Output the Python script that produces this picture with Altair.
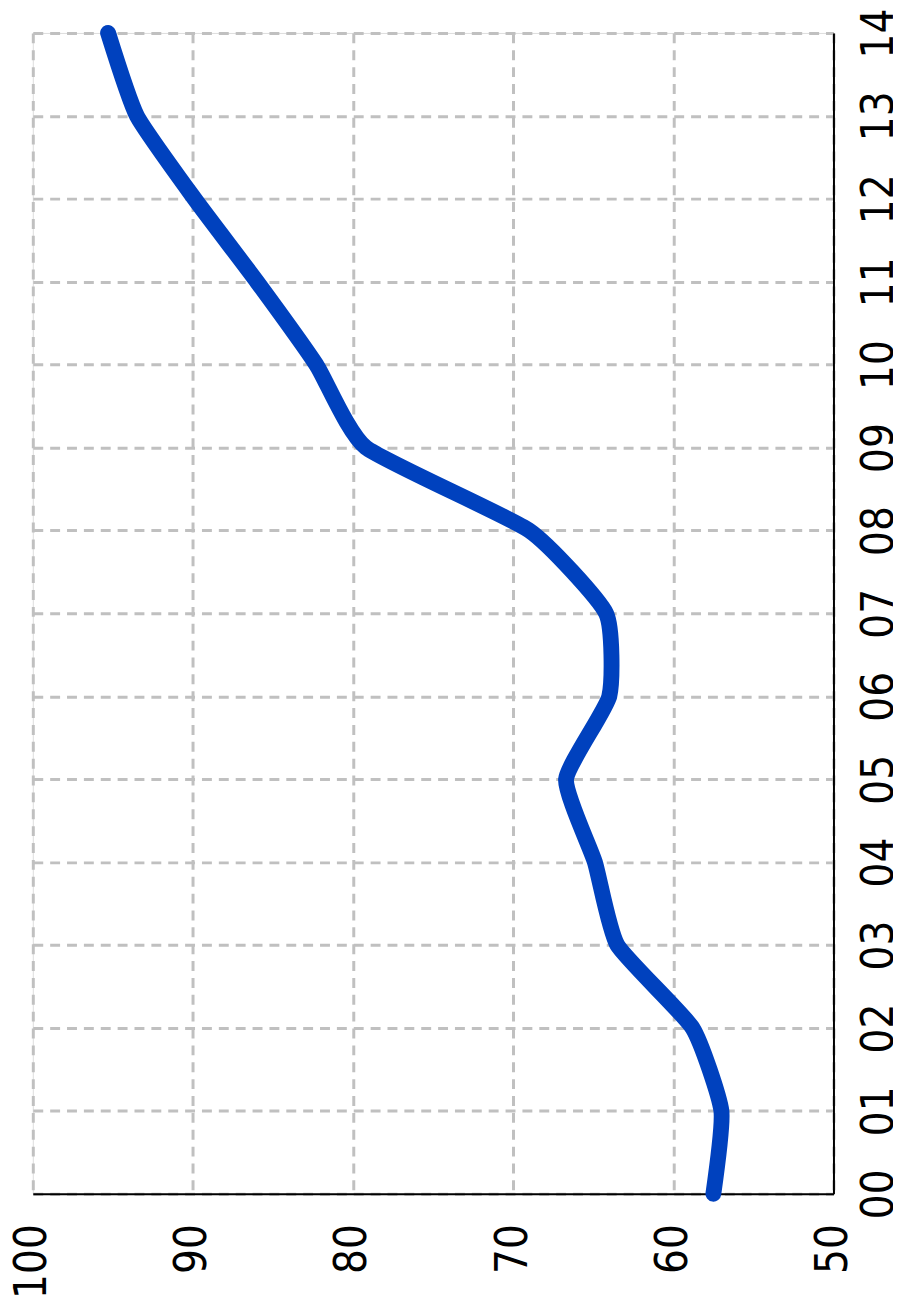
import altair as alt
import pandas as pd

years = list(range(0, 15))
values = [57.5, 57.0, 58.8, 63.5, 64.9, 66.7, 64.0, 64.2, 69.0, 79.2, 82.3, 86.0, 89.9, 93.5, 95.3]
value_ticks = [50, 60, 70, 80, 90, 100]

df = pd.DataFrame({"year": years, "value": values})

FONT = "Liberation Sans Narrow, DejaVu Sans Condensed, sans-serif"

chart = alt.Chart(df).mark_line(
    color="#0041BE", strokeWidth=16, strokeCap="round", strokeJoin="round",
    interpolate="cardinal", tension=0.5
).encode(
    x=alt.X("value:Q", scale=alt.Scale(domain=[50, 100], reverse=True, nice=False, zero=False),
            axis=alt.Axis(values=value_ticks, orient="bottom", title=None, labelAngle=270,
                          labelAlign="right", labelBaseline="middle", labelPadding=30,
                          ticks=False, labelFont=FONT, labelFontSize=44, labelColor="#000000",
                          domainColor="#000000", domainWidth=2, gridColor="#C0C0C0",
                          gridDash=[10, 7], gridWidth=3, labelFlush=False, labelOverlap=False)),
    y=alt.Y("year:Q", scale=alt.Scale(domain=[0, 14], nice=False, zero=False),
            axis=alt.Axis(values=years, orient="right", title=None, labelAngle=270,
                          labelAlign="center", labelBaseline="top", labelPadding=24,
                          ticks=False, labelFont=FONT, labelFontSize=44, labelColor="#000000",
                          labelExpr="datum.value < 10 ? '0' + datum.value : '' + datum.value",
                          domainColor="#000000", domainWidth=2, gridColor="#C0C0C0",
                          gridDash=[10, 7], gridWidth=3, labelFlush=False, labelOverlap=False)),
    order="year:Q",
).properties(
    width=807, height=1170,
    autosize=alt.AutoSizeParams(type="none"),
    padding={"left": 25, "top": 20, "right": 60, "bottom": 110},
).configure_view(stroke=None).configure(background="#FFFFFF")

chart.save("out.html", embed_options={"renderer": "svg", "actions": False})
